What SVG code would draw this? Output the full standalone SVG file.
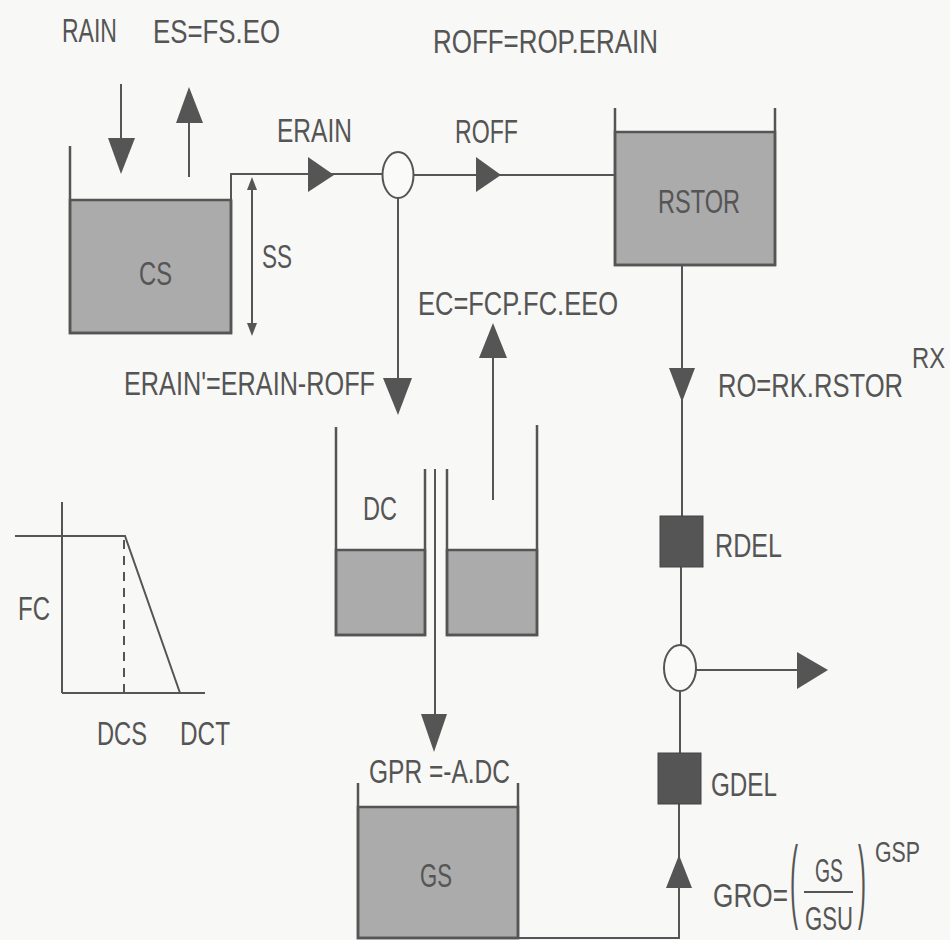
<svg xmlns="http://www.w3.org/2000/svg" width="950" height="940" viewBox="0 0 950 940">
<defs>
<style>
.t{font-family:"Liberation Sans",Arial,sans-serif;font-size:33px;fill:#555}
.s{font-family:"Liberation Sans",Arial,sans-serif;font-size:29px;fill:#555}
.p{font-family:"Liberation Sans",Arial,sans-serif;font-size:30px;fill:#555}
.ln{stroke:#555;stroke-width:2;fill:none}
.wall{stroke:#555;stroke-width:2.5;fill:none}
.water{fill:#ababab;stroke:#555;stroke-width:2.5}
.head{fill:#555;stroke:none}
.box{fill:#555;stroke:#444;stroke-width:1}
.node{fill:#fafaf8;stroke:#555;stroke-width:2}
</style>
</defs>
<rect width="950" height="940" fill="#f8f8f6"/>

<g id="connectors">
  <!-- RAIN in -->
  <line class="ln" x1="121" y1="84" x2="121" y2="140"/>
  <polygon class="head" points="108,138 135,138 121,174"/>
  <!-- ES out -->
  <line class="ln" x1="189" y1="177" x2="189" y2="121"/>
  <polygon class="head" points="176,123 203,123 189,87"/>
  <!-- CS overflow to junction -->
  <polyline class="ln" points="231,200 231,174 383,174"/>
  <polygon class="head" points="308,157 308,192 334,175"/>
  <!-- junction to RSTOR -->
  <line class="ln" x1="413" y1="175" x2="615" y2="175"/>
  <polygon class="head" points="476,157 476,192 501,175"/>
  <!-- SS dimension -->
  <line class="ln" x1="252" y1="180" x2="252" y2="333"/>
  <polygon class="head" points="247,190 257,190 252,177"/>
  <polygon class="head" points="247,323 257,323 252,336"/>
  <!-- junction to DC -->
  <line class="ln" x1="398" y1="198" x2="398" y2="380"/>
  <polygon class="head" points="383,378 412,378 398,415"/>
  <!-- EC out of DC -->
  <line class="ln" x1="493" y1="500" x2="493" y2="356"/>
  <polygon class="head" points="479,358 507,358 493,323"/>
  <!-- percolation to GS -->
  <line class="ln" x1="435" y1="469" x2="435" y2="716"/>
  <polygon class="head" points="421,714 447,714 434,752"/>
  <!-- RSTOR outflow -->
  <line class="ln" x1="682" y1="265" x2="682" y2="516"/>
  <polygon class="head" points="669,368 695,368 682,402"/>
  <line class="ln" x1="681" y1="567" x2="681" y2="645"/>
  <line class="ln" x1="680" y1="691" x2="680" y2="753"/>
  <line class="ln" x1="696" y1="670" x2="799" y2="670"/>
  <polygon class="head" points="797,652 797,689 828,670"/>
  <!-- GS outflow -->
  <polyline class="ln" points="518,938 679,938 679,804"/>
  <polygon class="head" points="666,888 692,888 679,855"/>
</g>

<g id="CS">
  <rect class="water" x="70" y="200" width="161" height="133"/>
  <polyline class="wall" points="70,146 70,333 231,333 231,200"/>
  <text class="t" x="139" y="285" textLength="33" lengthAdjust="spacingAndGlyphs">CS</text>
</g>

<g id="junction1">
  <ellipse class="node" cx="398" cy="175" rx="15.5" ry="23"/>
</g>

<g id="RSTOR">
  <rect class="water" x="615" y="132" width="160" height="133"/>
  <polyline class="wall" points="615,108 615,265 775,265 775,108"/>
  <text class="t" x="658" y="213" textLength="82" lengthAdjust="spacingAndGlyphs">RSTOR</text>
</g>

<g id="DC">
  <rect class="water" x="336" y="550" width="89" height="85"/>
  <rect class="water" x="447" y="550" width="90" height="85"/>
  <polyline class="wall" points="336,427 336,635 425,635 425,469"/>
  <polyline class="wall" points="447,469 447,635 537,635 537,425"/>
  <text class="t" x="363" y="520" textLength="34" lengthAdjust="spacingAndGlyphs">DC</text>
</g>

<g id="RDEL">
  <rect class="box" x="660" y="516" width="43" height="51"/>
  <text class="t" x="715" y="557" textLength="67" lengthAdjust="spacingAndGlyphs">RDEL</text>
</g>

<g id="junction2">
  <ellipse class="node" cx="680" cy="668" rx="16" ry="23"/>
</g>

<g id="GDEL">
  <rect class="box" x="658" y="753" width="43" height="51"/>
  <text class="t" x="711" y="796" textLength="66" lengthAdjust="spacingAndGlyphs">GDEL</text>
</g>

<g id="GS">
  <rect class="water" x="358" y="807" width="160" height="131"/>
  <polyline class="wall" points="358,783 358,938 518,938 518,783"/>
  <text class="t" x="420" y="887" textLength="32" lengthAdjust="spacingAndGlyphs">GS</text>
</g>

<g id="FC-graph">
  <line class="ln" x1="62" y1="502" x2="62" y2="693"/>
  <line class="ln" x1="62" y1="693" x2="205" y2="693"/>
  <polyline class="ln" points="15,536 125,536 180,693"/>
  <line class="ln" x1="124" y1="540" x2="124" y2="693" stroke-dasharray="9,7"/>
  <text class="t" x="18" y="620" textLength="32" lengthAdjust="spacingAndGlyphs">FC</text>
  <text class="t" x="97" y="745" textLength="50" lengthAdjust="spacingAndGlyphs">DCS</text>
  <text class="t" x="180" y="745" textLength="50" lengthAdjust="spacingAndGlyphs">DCT</text>
</g>

<g id="labels">
  <text class="t" x="62" y="42" textLength="55" lengthAdjust="spacingAndGlyphs">RAIN</text>
  <text class="t" x="153" y="43" textLength="127" lengthAdjust="spacingAndGlyphs">ES=FS.EO</text>
  <text class="t" x="433" y="53" textLength="225" lengthAdjust="spacingAndGlyphs">ROFF=ROP.ERAIN</text>
  <text class="t" x="277" y="142" textLength="75" lengthAdjust="spacingAndGlyphs">ERAIN</text>
  <text class="t" x="455" y="143" textLength="63" lengthAdjust="spacingAndGlyphs">ROFF</text>
  <text class="t" x="262" y="268" textLength="30" lengthAdjust="spacingAndGlyphs">SS</text>
  <text class="t" x="418" y="315" textLength="200" lengthAdjust="spacingAndGlyphs">EC=FCP.FC.EEO</text>
  <text class="t" x="124" y="395" textLength="251" lengthAdjust="spacingAndGlyphs">ERAIN'=ERAIN-ROFF</text>
  <text class="t" x="718" y="397" textLength="185" lengthAdjust="spacingAndGlyphs">RO=RK.RSTOR</text>
  <text class="s" x="912" y="368" textLength="33" lengthAdjust="spacingAndGlyphs">RX</text>
  <text class="t" x="369" y="783" textLength="141" lengthAdjust="spacingAndGlyphs">GPR =-A.DC</text>
  <text class="t" x="713" y="907" textLength="75" lengthAdjust="spacingAndGlyphs">GRO=</text>
  <text class="p" transform="translate(790,911) scale(0.8,3.1)">(</text>
  <text class="t" x="815" y="882" textLength="28" lengthAdjust="spacingAndGlyphs">GS</text>
  <line class="ln" x1="804" y1="892" x2="853" y2="892"/>
  <text class="t" x="805" y="930" textLength="48" lengthAdjust="spacingAndGlyphs">GSU</text>
  <text class="p" transform="translate(858,911) scale(0.8,3.1)">)</text>
  <text class="s" x="875" y="862" textLength="45" lengthAdjust="spacingAndGlyphs">GSP</text>
</g>
</svg>
